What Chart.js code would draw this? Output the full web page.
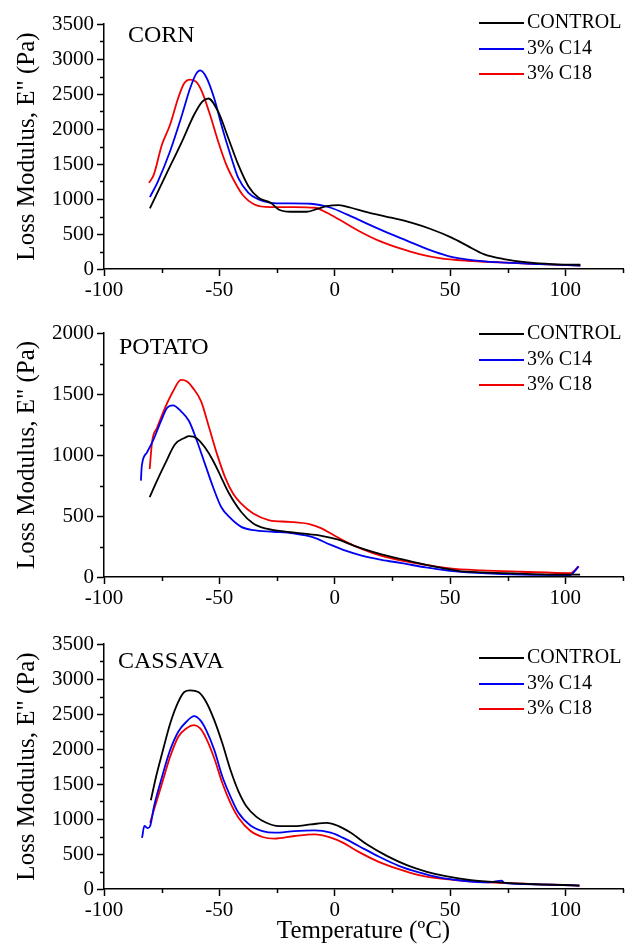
<!DOCTYPE html>
<html lang="en">
<head>
  <meta charset="UTF-8">
  <title>Loss Modulus vs Temperature</title>
  <script src="https://cdn.jsdelivr.net/npm/chart.js"></script>
  <style>
    html, body { margin: 0; padding: 0; background: #fff; }
    .wrap { position: relative; width: 628px; height: 946px; }
    canvas { position: absolute; left: 0; }
    #cornChart { top: 0; }
    #potatoChart { top: 310px; }
    #cassavaChart { top: 618px; }
  </style>
</head>
<body>
  <div class="wrap">
    <canvas id="cornChart" width="628" height="310"></canvas>
    <canvas id="potatoChart" width="628" height="308"></canvas>
    <canvas id="cassavaChart" width="628" height="328"></canvas>
  </div>
  <script>
    // series names and panel labels
    const seriesNames = ['CONTROL', '3% C14', '3% C18'];
    const seriesColors = ['#000000', '#0000f0', '#f00000'];
    const panelNames = ['CORN', 'POTATO', 'CASSAVA'];
    const yAxisTitle = 'Loss Modulus, E" (Pa)';
    const xAxisTitle = 'Temperature (ºC)';

    // CORN
    const cornControlT = [-80.1, -73.1, -66.2, -61, -57.5, -54.8, -50.5, -46.1, -41.8, -37.4, -33, -27.8, -24.3, -19.1, -12.1, -6.9, -3.4, 1.8, 7.1, 14, 24.5, 33.2, 41.9, 50.7, 57.6, 64.6, 73.3, 83.8, 94.2, 106.5];
    const cornControlE = [866, 1348, 1821, 2200, 2389, 2436, 2247, 1868, 1490, 1183, 1017, 946, 851, 818, 818, 866, 899, 913, 875, 814, 733, 662, 568, 449, 331, 213, 142, 95, 71, 61];
    const cornC14T = [-80.1, -76.6, -71.4, -66.2, -62.7, -60, -58.3, -55.7, -52.2, -48.7, -45.2, -41.8, -37.4, -33, -27.8, -20.8, -10.4, -1.7, 5.3, 14, 22.8, 31.5, 40.2, 48.9, 59.4, 71.6, 89, 106.5];
    const cornC14E = [1026, 1253, 1679, 2200, 2578, 2791, 2838, 2743, 2436, 2010, 1632, 1301, 1088, 993, 946, 937, 932, 875, 780, 648, 520, 402, 284, 189, 128, 95, 71, 47];
    const cornC18T = [-80.5, -78.4, -74.9, -71.4, -67.9, -65.3, -62.7, -60, -57.5, -54, -50.5, -47, -43.5, -40, -34.8, -27.8, -17.3, -8.6, -3.4, 1.8, 10.5, 19.3, 28, 36.7, 45.4, 57.6, 71.6, 89, 106.5];
    const cornC18E = [1230, 1348, 1774, 2058, 2436, 2649, 2706, 2673, 2531, 2200, 1821, 1490, 1253, 1064, 922, 885, 885, 875, 804, 710, 544, 402, 298, 213, 156, 118, 95, 71, 47];

    // POTATO
    const potatoControlT = [-80.2, -77, -73.6, -69.2, -64.9, -63.1, -59.7, -56.2, -52.7, -49.2, -45.7, -40.5, -35.3, -30.1, -23.1, -14.4, -5.7, 1.2, 8.2, 16.9, 25.6, 34.3, 43, 53.4, 63.8, 81.2, 98.6, 106.4];
    const potatoControlE = [655, 790, 925, 1088, 1142, 1155, 1136, 1061, 953, 817, 682, 533, 438, 398, 376, 357, 338, 308, 257, 203, 160, 122, 87, 51, 38, 27, 19, 19];
    const potatoC14T = [-84, -83.6, -81.4, -78.8, -75.3, -72.7, -70.1, -66.6, -63.1, -59.7, -56.2, -52.7, -49.2, -45.7, -40.5, -35.3, -26.6, -17.9, -9.2, -2.3, 4.7, 11.7, 20.3, 29, 39.5, 49.9, 63.8, 81.2, 102.1, 104, 105.6];
    const potatoC14E = [790, 912, 1020, 1115, 1277, 1385, 1407, 1358, 1277, 1115, 925, 736, 574, 492, 411, 384, 371, 357, 325, 268, 216, 176, 141, 114, 78, 51, 32, 19, 16, 46, 87];
    const potatoC18T = [-80.2, -79.1, -77, -73.6, -70.1, -66.6, -64, -61.4, -57.9, -54.4, -51, -47.5, -44, -40.5, -35.3, -28.3, -19.7, -11, -5.7, -0.5, 4.7, 11.7, 20.3, 29, 39.5, 49.9, 63.8, 81.2, 102.1, 104.7, 105.9];
    const potatoC18E = [885, 1115, 1223, 1385, 1521, 1615, 1602, 1548, 1440, 1223, 1007, 817, 682, 601, 520, 465, 452, 433, 398, 344, 290, 230, 173, 135, 100, 70, 54, 43, 32, 65, 87];

    // CASSAVA
    const cassavaControlT = [-79.7, -77.4, -74.8, -71.3, -67.8, -65.2, -62.6, -59.1, -55.7, -52.2, -48.7, -45.2, -41.7, -38.3, -33.9, -29.6, -24.3, -17.4, -10.4, -3.5, 1.7, 7, 13.9, 22.6, 31.3, 40, 48.7, 59.1, 71.3, 85.2, 99.1, 106.1];
    const cassavaControlE = [1268, 1608, 1939, 2365, 2672, 2814, 2838, 2814, 2672, 2412, 2081, 1703, 1395, 1183, 1031, 946, 899, 899, 922, 946, 899, 804, 639, 473, 341, 246, 180, 128, 95, 71, 57, 47];
    const cassavaC14T = [-83.5, -82.5, -81, -80, -78.3, -74.8, -71.3, -67.8, -64.3, -60.9, -58.3, -55.7, -52.2, -48.7, -45.2, -41.7, -36.5, -31.3, -26.1, -17.4, -8.7, -1.7, 3.5, 10.4, 19.1, 27.8, 36.5, 45.2, 55.7, 67, 72.5, 73.5, 81.7, 99.1, 106.1];
    const cassavaC14E = [730, 900, 870, 900, 1183, 1608, 1987, 2247, 2389, 2469, 2412, 2270, 1987, 1608, 1324, 1088, 908, 828, 804, 828, 837, 804, 733, 615, 464, 331, 237, 166, 118, 95, 120, 88, 71, 57, 47];
    const cassavaC18T = [-80, -78.3, -74.8, -71.3, -67.8, -64.3, -60.9, -58.3, -55.7, -52.2, -48.7, -45.2, -41.7, -36.5, -31.3, -26.1, -17.4, -8.7, -1.7, 3.5, 10.4, 19.1, 27.8, 36.5, 45.2, 55.7, 67, 81.7, 99.1, 106.1];
    const cassavaC18E = [946, 1135, 1514, 1892, 2176, 2294, 2341, 2294, 2152, 1868, 1514, 1230, 1017, 828, 743, 719, 757, 780, 733, 662, 530, 388, 284, 199, 151, 118, 95, 76, 57, 47];

    // axis ranges and tick labels
    const xMin = -100, xMax = 125, xStep = 25, xLabelStep = 50;
    const yMaxes = [3500, 2000, 3500];
    const yStep = 250, yLabelStep = 500;

    const serif = "'Liberation Serif', 'Times New Roman', serif";

    const pairs = (t, e) => t.map((v, i) => ({ x: v, y: e[i] }));

    // minor ticks, legend and panel label
    const decor = {
      id: 'decor',
      afterDraw(chart, args, opts) {
        const ctx = chart.ctx;
        const xs = chart.scales.x, ys = chart.scales.y;
        ctx.save();
        ctx.strokeStyle = '#000';
        ctx.lineWidth = 1.5;
        ctx.beginPath();
        xs.ticks.forEach(t => {
          if (t.value % xLabelStep !== 0) {
            const px = Math.round(xs.getPixelForValue(t.value)) + 0.5;
            ctx.moveTo(px, xs.top); ctx.lineTo(px, xs.top + 4);
          }
        });
        ys.ticks.forEach(t => {
          if (t.value % yLabelStep !== 0) {
            const py = Math.round(ys.getPixelForValue(t.value)) + 0.5;
            ctx.moveTo(ys.right - 4, py); ctx.lineTo(ys.right, py);
          }
        });
        ctx.stroke();

        // panel name
        ctx.fillStyle = '#000';
        ctx.font = '24px ' + serif;
        ctx.textBaseline = 'middle';
        ctx.textAlign = 'left';
        ctx.fillText(opts.label, opts.labelX, opts.labelY);

        // legend
        ctx.font = '20px ' + serif;
        chart.data.datasets.forEach((ds, i) => {
          const y = opts.legendY[i];
          ctx.strokeStyle = ds.borderColor;
          ctx.lineWidth = 2;
          ctx.beginPath();
          ctx.moveTo(479, y); ctx.lineTo(524, y);
          ctx.stroke();
          ctx.fillText(ds.label, 527, y);
        });
        ctx.restore();
      }
    };

    function makeChart(id, series, yMax, deco, bottomH, topPad, showXTitle) {
      return new Chart(document.getElementById(id), {
        type: 'line',
        data: {
          datasets: series.map((s, i) => ({
            label: seriesNames[i],
            data: pairs(s[0], s[1]),
            borderColor: seriesColors[i],
            borderWidth: 1.8,
            pointRadius: 0,
            cubicInterpolationMode: 'monotone',
            fill: false
          }))
        },
        options: {
          responsive: false,
          animation: false,
          devicePixelRatio: 1,
          layout: { padding: { top: topPad, right: 5, left: 0, bottom: 0 } },
          plugins: {
            legend: { display: false },
            tooltip: { enabled: false },
            decor: deco
          },
          scales: {
            x: {
              type: 'linear',
              min: xMin,
              max: xMax,
              afterFit: s => { s.height = bottomH; },
              border: { display: true, color: '#000', width: 1.5 },
              grid: {
                drawOnChartArea: false,
                drawTicks: true,
                tickLength: 7,
                tickWidth: 1.5,
                tickColor: c => (c.tick && c.tick.value % xLabelStep === 0) ? '#000' : 'rgba(0,0,0,0)'
              },
              ticks: {
                stepSize: xStep,
                autoSkip: false,
                maxRotation: 0,
                padding: 2,
                color: '#000',
                font: { family: serif, size: 21 },
                callback: v => (v % xLabelStep === 0 ? v : '')
              },
              title: {
                display: showXTitle,
                text: xAxisTitle,
                color: '#000',
                font: { family: serif, size: 25 },
                padding: { top: 0, bottom: 0 }
              }
            },
            y: {
              min: 0,
              max: yMax,
              afterFit: s => { s.width = 104; },
              border: { display: true, color: '#000', width: 1.5 },
              grid: {
                drawOnChartArea: false,
                drawTicks: true,
                tickLength: 7,
                tickWidth: 1.5,
                tickColor: c => (c.tick && c.tick.value % yLabelStep === 0) ? '#000' : 'rgba(0,0,0,0)'
              },
              ticks: {
                stepSize: yStep,
                autoSkip: false,
                padding: 3,
                color: '#000',
                font: { family: serif, size: 21 },
                callback: v => (v % yLabelStep === 0 ? v : '')
              },
              title: {
                display: true,
                text: yAxisTitle,
                color: '#000',
                font: { family: serif, size: 25 },
                padding: { top: 12, bottom: 0 }
              }
            }
          }
        },
        plugins: [decor]
      });
    }

    makeChart('cornChart',
      [[cornControlT, cornControlE], [cornC14T, cornC14E], [cornC18T, cornC18E]],
      yMaxes[0],
      { label: panelNames[0], labelX: 128, labelY: 36, legendY: [23, 49, 74] },
      41, 24, false);

    makeChart('potatoChart',
      [[potatoControlT, potatoControlE], [potatoC14T, potatoC14E], [potatoC18T, potatoC18E]],
      yMaxes[1],
      { label: panelNames[1], labelX: 119, labelY: 38, legendY: [24, 50, 75] },
      41, 23, false);

    makeChart('cassavaChart',
      [[cassavaControlT, cassavaControlE], [cassavaC14T, cassavaC14E], [cassavaC18T, cassavaC18E]],
      yMaxes[2],
      { label: panelNames[2], labelX: 118, labelY: 44, legendY: [40, 66, 91] },
      57, 26, true);
  </script>
</body>
</html>
